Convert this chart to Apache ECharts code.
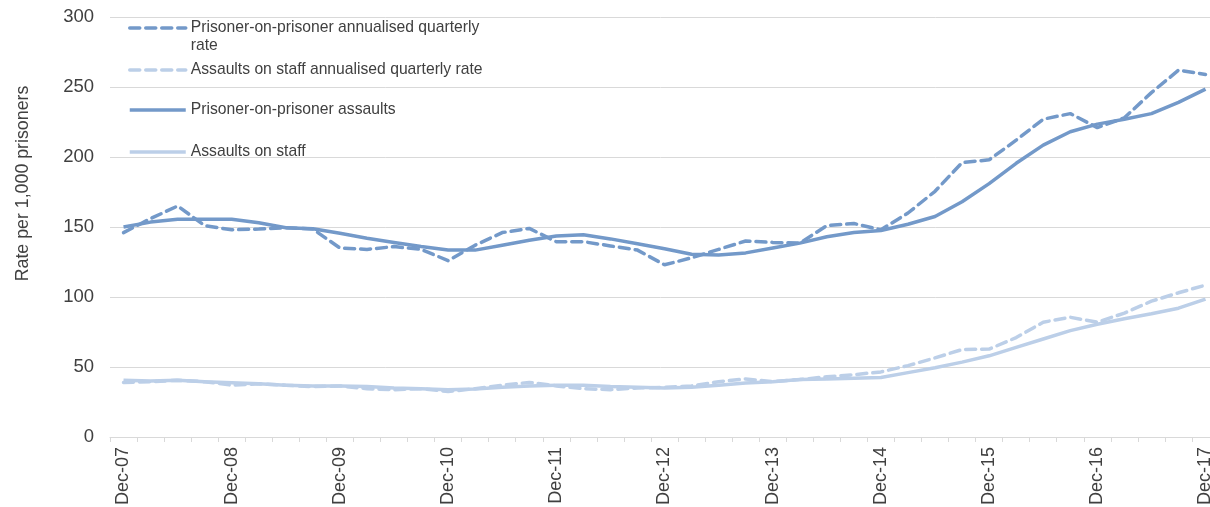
<!DOCTYPE html>
<html>
<head>
<meta charset="utf-8">
<script src="https://cdn.jsdelivr.net/npm/echarts@6/dist/echarts.min.js"></script>
<style>html,body{margin:0;padding:0;background:#fff;}#c{width:1210px;height:507px;}</style>
</head>
<body>
<div id="c"></div>
<script>
// Quarterly categories Dec-07 .. Dec-17
const quarters = [
  'Dec-07','Mar-08','Jun-08','Sep-08','Dec-08','Mar-09','Jun-09','Sep-09','Dec-09','Mar-10','Jun-10','Sep-10',
  'Dec-10','Mar-11','Jun-11','Sep-11','Dec-11','Mar-12','Jun-12','Sep-12','Dec-12','Mar-13','Jun-13','Sep-13',
  'Dec-13','Mar-14','Jun-14','Sep-14','Dec-14','Mar-15','Jun-15','Sep-15','Dec-15','Mar-16','Jun-16','Sep-16',
  'Dec-16','Mar-17','Jun-17','Sep-17','Dec-17'
];
const yTicks = [0, 50, 100, 150, 200, 250, 300];

const popQuarterly = [146,156,165,151,148,148.5,149.5,148.5,135,134,136,134,
  126,137,146,149,139.5,139.5,136.5,133.5,123,128,134,140,
  139,138.5,151,152.5,148,160,175.5,196,198,212,227,231,
  221,228,246,262,259];
const staffQuarterly = [39,39.5,40.5,39.5,37,38,37,36,36.5,34.5,33.8,34.5,
  32.5,34.5,37,39,36.5,34.5,33.8,35,35.5,36.5,39.5,41.5,
  39.5,41,43,44.5,46.5,51,56.5,62.5,62.8,71,82,85.5,
  82,88.5,97,103,108.5];
const popAssaults = [150,153.5,155.5,155.5,155.5,153,149.5,148.8,145.5,142,139,136,
  133.5,133.5,137,140.5,143.5,144.5,141.5,138,134.5,130.5,130,131.5,
  135,138.5,143,146,147.5,152,157.5,168,181,195.5,208.5,218,
  223.5,227,231,239,248.5];
const staffAssaults = [40.5,40,40.5,39.5,38.8,38,37,36.5,36.5,36,35,34.5,
  33.8,34.2,35.5,36.5,37,37,36,35.5,35,35.5,37,38.5,
  39.5,41,41.5,42,42.5,46,49.5,53.5,58,64,70,76,
  80.5,84.5,88,92,98.5];

const names = [
  'Prisoner-on-prisoner annualised quarterly rate',
  'Assaults on staff annualised quarterly rate',
  'Prisoner-on-prisoner assaults',
  'Assaults on staff'
];
const yName = 'Rate per 1,000 prisoners';
const DARK = '#7399C9';
const LIGHT = '#BCCFE8';
const FONT = 'Liberation Sans, Arial, sans-serif';
const TXT = '#404040';

const chart = echarts.init(document.getElementById('c'));

function legendFor(name, top, extra) {
  return Object.assign({
    data: [name],
    orient: 'vertical',
    left: 128,
    top: top,
    padding: 0,
    itemWidth: 56,
    itemHeight: 14,
    itemGap: 0,
    selectedMode: false,
    itemStyle: { color: 'transparent', borderWidth: 0, opacity: 0 },
    lineStyle: { width: 3.5 },
    textStyle: { fontFamily: FONT, fontSize: 15.7, color: TXT, lineHeight: 18 }
  }, extra || {});
}

const dash = [10, 6];
chart.setOption({
  animation: false,
  textStyle: { fontFamily: FONT },
  grid: { left: 110, top: 17, height: 420, width: quarters.length * 27.05, outerBoundsMode: 'none', containLabel: false },
  legend: [
    legendFor(names[0], 1, {
      formatter: () => ' \nPrisoner-on-prisoner annualised quarterly\nrate'
    }),
    legendFor(names[1], 61),
    legendFor(names[2], 101),
    legendFor(names[3], 143)
  ],
  graphic: [{
    type: 'text',
    x: 23, y: 183.5,
    rotation: Math.PI / 2,
    style: {
      text: yName, fontFamily: FONT, fontSize: 17.8, fill: TXT,
      align: 'center', verticalAlign: 'middle'
    }
  }],
  xAxis: {
    type: 'category',
    data: quarters,
    boundaryGap: true,
    axisLine: { lineStyle: { color: '#d9d9d9', width: 1 } },
    axisTick: { show: true, interval: 0, length: 5, lineStyle: { color: '#d9d9d9' } },
    axisLabel: {
      interval: 3, rotate: 90, margin: 10,
      fontFamily: FONT, fontSize: 18, color: TXT
    },
    splitLine: { show: false }
  },
  yAxis: {
    type: 'value',
    min: yTicks[0], max: yTicks[yTicks.length - 1], interval: 50,
    axisLine: { show: false },
    axisTick: { show: false },
    axisLabel: { margin: 16, fontFamily: FONT, fontSize: 18.5, color: TXT },
    splitLine: { lineStyle: { color: '#d9d9d9', width: 1 } }
  },
  series: [
    { name: names[0], type: 'line', data: popQuarterly, symbol: 'none', z: 3,
      lineStyle: { color: DARK, width: 3.5, type: dash, cap: 'round' }, itemStyle: { color: DARK } },
    { name: names[1], type: 'line', data: staffQuarterly, symbol: 'none', z: 1,
      lineStyle: { color: LIGHT, width: 3.5, type: dash, cap: 'round' }, itemStyle: { color: LIGHT } },
    { name: names[2], type: 'line', data: popAssaults, symbol: 'none', z: 2,
      lineStyle: { color: DARK, width: 3.5 }, itemStyle: { color: DARK } },
    { name: names[3], type: 'line', data: staffAssaults, symbol: 'none', z: 2,
      lineStyle: { color: LIGHT, width: 3.5 }, itemStyle: { color: LIGHT } }
  ]
});
</script>
</body>
</html>
